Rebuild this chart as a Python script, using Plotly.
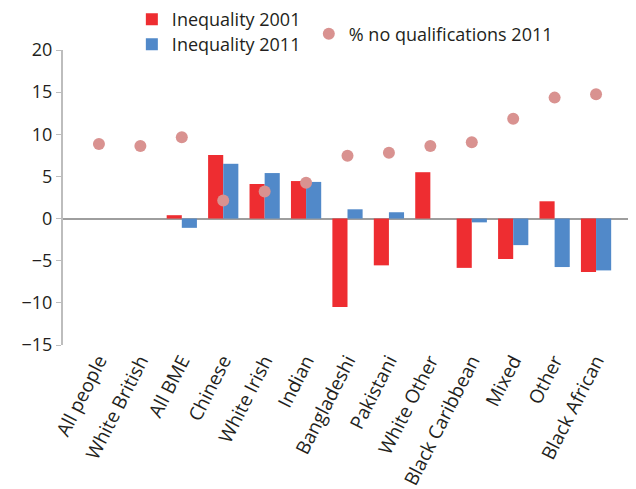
import plotly.graph_objects as go

categories = ["All people", "White British", "All BME", "Chinese", "White Irish", "Indian",
              "Bangladeshi", "Pakistani", "White Other", "Black Caribbean", "Mixed", "Other",
              "Black African"]
ineq_2001 = [0, 0, 0.4, 7.55, 4.1, 4.45, -10.5, -5.55, 5.5, -5.85, -4.8, 2.05, -6.35]
ineq_2011 = [0, 0, -1.1, 6.5, 5.4, 4.35, 1.1, 0.75, 0, -0.45, -3.15, -5.75, -6.15]
no_qual_2011 = [8.85, 8.6, 9.65, 2.15, 3.2, 4.25, 7.45, 7.8, 8.6, 9.05, 11.85, 14.35, 14.75]
y_ticks = [-15, -10, -5, 0, 5, 10, 15, 20]

FONT = "Open Sans"
RED = "#EE2D31"
BLUE = "#5189C9"
PINK = "#D99290"
TXT = "#231F20"

fig = go.Figure()
fig.add_trace(go.Bar(x=categories, y=ineq_2001, name="Inequality 2001",
                     marker=dict(color=RED, line=dict(width=0)), legend="legend"))
fig.add_trace(go.Bar(x=categories, y=ineq_2011, name="Inequality 2011",
                     marker=dict(color=BLUE, line=dict(width=0)), legend="legend3"))
fig.add_trace(go.Scatter(x=categories, y=no_qual_2011, name="% no qualifications 2011",
                         mode="markers", marker=dict(color=PINK, size=12),
                         legend="legend2"))

leg_common = dict(xanchor="left", yanchor="top",
                  font=dict(family=FONT, size=18, color=TXT),
                  bgcolor="rgba(0,0,0,0)", itemwidth=30)

fig.update_layout(
    width=628, height=481,
    margin=dict(l=55, r=4, t=42, b=144, autoexpand=False),
    paper_bgcolor="white", plot_bgcolor="white",
    font=dict(family=FONT, size=18, color=TXT),
    barmode="group", bargap=0.27, bargroupgap=0,
    legend=dict(x=0.121, y=1.166, **leg_common),
    legend3=dict(x=0.121, y=1.081, **leg_common),
    legend2=dict(x=0.432, y=1.117, **leg_common),
    showlegend=True,
)
fig.update_xaxes(tickangle=-63, showline=False, ticks="", showgrid=False,
                 tickfont=dict(family=FONT, size=19, color=TXT))
fig.update_yaxes(range=[-15, 20], tickvals=y_ticks,
                 ticktext=[("\u2212" + str(-v)) if v < 0 else str(v) for v in y_ticks],
                 showline=True, linecolor="#BDBDBD", linewidth=2,
                 ticks="outside", ticklen=5, tickcolor="#BDBDBD", tickwidth=1,
                 showgrid=False, zeroline=True, zerolinecolor="#9E9E9E", zerolinewidth=2,
                 tickfont=dict(family=FONT, size=18, color=TXT))

fig.write_html("out.html")
